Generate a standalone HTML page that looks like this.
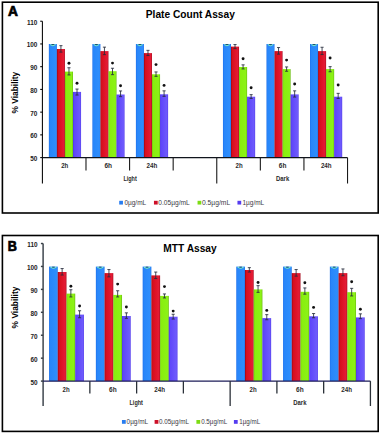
<!DOCTYPE html>
<html><head><meta charset="utf-8"><style>
html,body{margin:0;padding:0;background:#fff;}
body{width:381px;height:434px;overflow:hidden;}
svg{display:block;font-family:"Liberation Sans", sans-serif;}
.let{font-size:14px;font-weight:bold;stroke:#000;stroke-width:0.75px;}
.ttl{font-size:10.2px;font-weight:bold;}
.tk{font-size:6.4px;font-weight:bold;fill:#222;}
.yl{font-size:8.4px;font-weight:bold;}
.cl{font-size:6.4px;font-weight:bold;fill:#2a2a2a;}
.lg{font-size:6.6px;fill:#3a3a44;}
.ay0{stroke:#000;stroke-width:1.05;}
.ax0{stroke:#10141c;stroke-width:1.2;}
.ad0{stroke:#1a1a1a;stroke-width:1.1;}
.ay1{stroke:#384048;stroke-width:1.45;}
.ax1{stroke:#1c1c58;stroke-width:1.3;}
.ad1{stroke:#2a3038;stroke-width:1.3;}
.eb{stroke:#262c3c;stroke-width:0.85;fill:none;}
</style></head><body>
<svg width="381" height="434" viewBox="0 0 381 434">
<defs><linearGradient id="g0" x1="0" x2="1" y1="0" y2="0"><stop offset="0" stop-color="rgb(30, 112, 236)"/><stop offset="0.14" stop-color="rgb(40, 134, 250)"/><stop offset="0.86" stop-color="rgb(46, 142, 252)"/><stop offset="1" stop-color="rgb(32, 115, 238)"/></linearGradient><linearGradient id="g1" x1="0" x2="1" y1="0" y2="0"><stop offset="0" stop-color="rgb(150, 6, 16)"/><stop offset="0.14" stop-color="rgb(214, 14, 28)"/><stop offset="0.6" stop-color="rgb(224, 22, 44)"/><stop offset="0.86" stop-color="rgb(228, 28, 54)"/><stop offset="1" stop-color="rgb(168, 12, 30)"/></linearGradient><linearGradient id="g2" x1="0" x2="1" y1="0" y2="0"><stop offset="0" stop-color="rgb(112, 200, 10)"/><stop offset="0.14" stop-color="rgb(136, 238, 14)"/><stop offset="0.86" stop-color="rgb(140, 242, 22)"/><stop offset="1" stop-color="rgb(104, 184, 16)"/></linearGradient><linearGradient id="g3" x1="0" x2="1" y1="0" y2="0"><stop offset="0" stop-color="rgb(76, 52, 230)"/><stop offset="0.14" stop-color="rgb(94, 70, 250)"/><stop offset="0.86" stop-color="rgb(110, 90, 252)"/><stop offset="1" stop-color="rgb(86, 62, 236)"/></linearGradient></defs>
<rect width="381" height="434" fill="#fff"/>
<rect x="2.4" y="2.2" width="375.8" height="210.8" fill="none" stroke="#000" stroke-width="1.6"/>
<text transform="translate(8,16.45) scale(0.98,1)" class="let">A</text>
<text x="190.3" y="17.8" class="ttl" text-anchor="middle">Plate Count Assay</text>
<line x1="42.4" y1="21.22" x2="42.4" y2="183.5" class="ay0"/>
<line x1="40.2" y1="157.6" x2="42.4" y2="157.6" class="ay0"/>
<text x="37.4" y="161.1" class="tk" text-anchor="end">50</text>
<line x1="40.2" y1="134.87" x2="42.4" y2="134.87" class="ay0"/>
<text x="37.4" y="138.37" class="tk" text-anchor="end">60</text>
<line x1="40.2" y1="112.14" x2="42.4" y2="112.14" class="ay0"/>
<text x="37.4" y="115.64" class="tk" text-anchor="end">70</text>
<line x1="40.2" y1="89.41" x2="42.4" y2="89.41" class="ay0"/>
<text x="37.4" y="92.91" class="tk" text-anchor="end">80</text>
<line x1="40.2" y1="66.68" x2="42.4" y2="66.68" class="ay0"/>
<text x="37.4" y="70.18" class="tk" text-anchor="end">90</text>
<line x1="40.2" y1="43.95" x2="42.4" y2="43.95" class="ay0"/>
<text x="37.4" y="47.45" class="tk" text-anchor="end">100</text>
<line x1="40.2" y1="21.22" x2="42.4" y2="21.22" class="ay0"/>
<text x="37.4" y="24.72" class="tk" text-anchor="end">110</text>
<text transform="translate(18,92.6) rotate(-90)" class="yl" text-anchor="middle">% Viability</text>
<rect x="48.85" y="44" width="8.05" height="113.6" fill="url(#g0)"/>
<path d="M50.15 44.6Q52.88 47 55.6 44.6" fill="none" stroke="rgb(125,240,195)" stroke-width="1.0"/>
<path d="M51.58 44.5H54.17" stroke="rgb(30,70,70)" stroke-width="0.8"/>
<rect x="56.9" y="49" width="8.05" height="108.6" fill="url(#g1)"/>
<path d="M60.93 45.65V52.15M59.38 45.65H62.48M59.38 52.15H62.48" class="eb"/>
<rect x="64.95" y="71.6" width="8.05" height="86" fill="url(#g2)"/>
<path d="M68.98 67.75V74.95M67.43 67.75H70.53M67.43 74.95H70.53" class="eb"/>
<circle cx="68.98" cy="63.3" r="1.45" fill="#111"/>
<rect x="73" y="91.9" width="8.05" height="65.7" fill="url(#g3)"/>
<path d="M77.03 89.05V95.05M75.48 89.05H78.58M75.48 95.05H78.58" class="eb"/>
<circle cx="77.03" cy="83.2" r="1.45" fill="#111"/>
<rect x="92.38" y="44" width="8.05" height="113.6" fill="url(#g0)"/>
<path d="M93.67 44.6Q96.4 47 99.12 44.6" fill="none" stroke="rgb(125,240,195)" stroke-width="1.0"/>
<path d="M95.1 44.5H97.7" stroke="rgb(30,70,70)" stroke-width="0.8"/>
<rect x="100.42" y="51.1" width="8.05" height="106.5" fill="url(#g1)"/>
<path d="M104.45 47.15V54.65M102.9 47.15H106M102.9 54.65H106" class="eb"/>
<rect x="108.47" y="71.2" width="8.05" height="86.4" fill="url(#g2)"/>
<path d="M112.5 68.25V74.65M110.95 68.25H114.05M110.95 74.65H114.05" class="eb"/>
<circle cx="112.5" cy="63.1" r="1.45" fill="#111"/>
<rect x="116.53" y="94.5" width="8.05" height="63.1" fill="url(#g3)"/>
<path d="M120.55 90.95V96.65M119 90.95H122.1M119 96.65H122.1" class="eb"/>
<circle cx="120.55" cy="85.7" r="1.45" fill="#111"/>
<rect x="135.9" y="44" width="8.05" height="113.6" fill="url(#g0)"/>
<path d="M137.2 44.6Q139.93 47 142.65 44.6" fill="none" stroke="rgb(125,240,195)" stroke-width="1.0"/>
<path d="M138.62 44.5H141.23" stroke="rgb(30,70,70)" stroke-width="0.8"/>
<rect x="143.95" y="53.1" width="8.05" height="104.5" fill="url(#g1)"/>
<path d="M147.98 50.35V55.55M146.43 50.35H149.53M146.43 55.55H149.53" class="eb"/>
<rect x="152" y="74.3" width="8.05" height="83.3" fill="url(#g2)"/>
<path d="M156.03 71.95V76.35M154.47 71.95H157.58M154.47 76.35H157.58" class="eb"/>
<circle cx="156.03" cy="64.6" r="1.45" fill="#111"/>
<rect x="160.05" y="94.3" width="8.05" height="63.3" fill="url(#g3)"/>
<path d="M164.08 90.85V96.35M162.53 90.85H165.63M162.53 96.35H165.63" class="eb"/>
<circle cx="164.08" cy="85.4" r="1.45" fill="#111"/>
<rect x="222.95" y="44" width="8.05" height="113.6" fill="url(#g0)"/>
<path d="M224.25 44.6Q226.98 47 229.7 44.6" fill="none" stroke="rgb(125,240,195)" stroke-width="1.0"/>
<path d="M225.68 44.5H228.28" stroke="rgb(30,70,70)" stroke-width="0.8"/>
<rect x="231" y="46.6" width="8.05" height="111" fill="url(#g1)"/>
<path d="M235.03 44.55V48.65M233.48 44.55H236.58M233.48 48.65H236.58" class="eb"/>
<rect x="239.05" y="67" width="8.05" height="90.6" fill="url(#g2)"/>
<path d="M243.08 64.85V68.95M241.53 64.85H244.63M241.53 68.95H244.63" class="eb"/>
<circle cx="243.08" cy="58.7" r="1.45" fill="#111"/>
<rect x="247.1" y="96.7" width="8.05" height="60.9" fill="url(#g3)"/>
<path d="M251.13 94.65V98.45M249.58 94.65H252.68M249.58 98.45H252.68" class="eb"/>
<circle cx="251.13" cy="87.8" r="1.45" fill="#111"/>
<rect x="266.47" y="44" width="8.05" height="113.6" fill="url(#g0)"/>
<path d="M267.77 44.6Q270.5 47 273.22 44.6" fill="none" stroke="rgb(125,240,195)" stroke-width="1.0"/>
<path d="M269.2 44.5H271.8" stroke="rgb(30,70,70)" stroke-width="0.8"/>
<rect x="274.52" y="51.1" width="8.05" height="106.5" fill="url(#g1)"/>
<path d="M278.55 47.55V54.15M277 47.55H280.1M277 54.15H280.1" class="eb"/>
<rect x="282.57" y="69.1" width="8.05" height="88.5" fill="url(#g2)"/>
<path d="M286.6 66.95V71.25M285.05 66.95H288.15M285.05 71.25H288.15" class="eb"/>
<circle cx="286.6" cy="60.1" r="1.45" fill="#111"/>
<rect x="290.62" y="94.4" width="8.05" height="63.2" fill="url(#g3)"/>
<path d="M294.65 90.85V97.05M293.1 90.85H296.2M293.1 97.05H296.2" class="eb"/>
<circle cx="294.65" cy="84" r="1.45" fill="#111"/>
<rect x="310" y="44" width="8.05" height="113.6" fill="url(#g0)"/>
<path d="M311.3 44.6Q314.02 47 316.75 44.6" fill="none" stroke="rgb(125,240,195)" stroke-width="1.0"/>
<path d="M312.72 44.5H315.32" stroke="rgb(30,70,70)" stroke-width="0.8"/>
<rect x="318.05" y="51.1" width="8.05" height="106.5" fill="url(#g1)"/>
<path d="M322.07 47.25V54.55M320.52 47.25H323.62M320.52 54.55H323.62" class="eb"/>
<rect x="326.1" y="69.1" width="8.05" height="88.5" fill="url(#g2)"/>
<path d="M330.12 66.65V71.75M328.57 66.65H331.67M328.57 71.75H331.67" class="eb"/>
<circle cx="330.12" cy="58" r="1.45" fill="#111"/>
<rect x="334.15" y="96.7" width="8.05" height="60.9" fill="url(#g3)"/>
<path d="M338.17 93.35V98.45M336.62 93.35H339.72M336.62 98.45H339.72" class="eb"/>
<circle cx="338.17" cy="85" r="1.45" fill="#111"/>
<line x1="42.4" y1="157.6" x2="347.53" y2="157.6" class="ax0"/>
<line x1="85.99" y1="157.6" x2="85.99" y2="170.6" class="ad0"/>
<line x1="129.58" y1="157.6" x2="129.58" y2="170.6" class="ad0"/>
<line x1="173.17" y1="157.6" x2="173.17" y2="170.6" class="ad0"/>
<line x1="216.76" y1="157.6" x2="216.76" y2="183.5" class="ad0"/>
<line x1="260.35" y1="157.6" x2="260.35" y2="170.6" class="ad0"/>
<line x1="303.94" y1="157.6" x2="303.94" y2="170.6" class="ad0"/>
<line x1="347.53" y1="157.6" x2="347.53" y2="183.5" class="ad0"/>
<text x="64.69" y="168.2" class="cl" text-anchor="middle" textLength="7.1" lengthAdjust="spacingAndGlyphs">2h</text>
<text x="108.28" y="168.2" class="cl" text-anchor="middle" textLength="7.6" lengthAdjust="spacingAndGlyphs">6h</text>
<text x="151.88" y="168.2" class="cl" text-anchor="middle" textLength="10.7" lengthAdjust="spacingAndGlyphs">24h</text>
<text x="239.06" y="168.2" class="cl" text-anchor="middle" textLength="7.1" lengthAdjust="spacingAndGlyphs">2h</text>
<text x="282.64" y="168.2" class="cl" text-anchor="middle" textLength="7.6" lengthAdjust="spacingAndGlyphs">6h</text>
<text x="326.24" y="168.2" class="cl" text-anchor="middle" textLength="10.7" lengthAdjust="spacingAndGlyphs">24h</text>
<text x="130.08" y="180.8" class="cl" text-anchor="middle" textLength="13.4" lengthAdjust="spacingAndGlyphs">Light</text>
<text x="282.64" y="180.8" class="cl" text-anchor="middle" textLength="13.2" lengthAdjust="spacingAndGlyphs">Dark</text>
<rect x="119.2" y="200.8" width="3.75" height="3.75" fill="rgb(40,125,240)"/>
<text x="124.4" y="204.6" class="lg" textLength="21.8" lengthAdjust="spacingAndGlyphs">0µg/mL</text>
<rect x="153.95" y="200.8" width="3.75" height="3.75" fill="rgb(205,15,40)"/>
<text x="158.3" y="204.6" class="lg" textLength="31.4" lengthAdjust="spacingAndGlyphs">0.05µg/mL</text>
<rect x="197.55" y="200.8" width="3.75" height="3.75" fill="rgb(125,220,20)"/>
<text x="202" y="204.6" class="lg" textLength="28.2" lengthAdjust="spacingAndGlyphs">0.5µg/mL</text>
<rect x="237.45" y="200.8" width="3.75" height="3.75" fill="rgb(85,60,240)"/>
<text x="242.5" y="204.6" class="lg" textLength="21.7" lengthAdjust="spacingAndGlyphs">1µg/mL</text>
<rect x="2.4" y="235.5" width="375.8" height="195.9" fill="none" stroke="#000" stroke-width="1.6"/>
<text transform="translate(7.8,250.7) scale(0.9,1)" class="let">B</text>
<text x="190" y="251.8" class="ttl" text-anchor="middle">MTT Assay</text>
<line x1="43.1" y1="243.52" x2="43.1" y2="406" class="ay1"/>
<line x1="40.9" y1="381.1" x2="43.1" y2="381.1" class="ay1"/>
<text x="37.6" y="384.6" class="tk" text-anchor="end">50</text>
<line x1="40.9" y1="358.17" x2="43.1" y2="358.17" class="ay1"/>
<text x="37.6" y="361.67" class="tk" text-anchor="end">60</text>
<line x1="40.9" y1="335.24" x2="43.1" y2="335.24" class="ay1"/>
<text x="37.6" y="338.74" class="tk" text-anchor="end">70</text>
<line x1="40.9" y1="312.31" x2="43.1" y2="312.31" class="ay1"/>
<text x="37.6" y="315.81" class="tk" text-anchor="end">80</text>
<line x1="40.9" y1="289.38" x2="43.1" y2="289.38" class="ay1"/>
<text x="37.6" y="292.88" class="tk" text-anchor="end">90</text>
<line x1="40.9" y1="266.45" x2="43.1" y2="266.45" class="ay1"/>
<text x="37.6" y="269.95" class="tk" text-anchor="end">100</text>
<line x1="40.9" y1="243.52" x2="43.1" y2="243.52" class="ay1"/>
<text x="37.6" y="247.02" class="tk" text-anchor="end">110</text>
<text transform="translate(18,307.5) rotate(-90)" class="yl" text-anchor="middle">% Viability</text>
<rect x="49.06" y="266.6" width="8.72" height="114.5" fill="url(#g0)"/>
<path d="M50.36 267.2Q53.42 269.6 56.48 267.2" fill="none" stroke="rgb(125,240,195)" stroke-width="1.0"/>
<path d="M52.12 267.1H54.72" stroke="rgb(30,70,70)" stroke-width="0.8"/>
<rect x="57.78" y="272" width="8.72" height="109.1" fill="url(#g1)"/>
<path d="M62.14 268.55V275.05M60.59 268.55H63.69M60.59 275.05H63.69" class="eb"/>
<rect x="66.5" y="293.6" width="8.72" height="87.5" fill="url(#g2)"/>
<path d="M70.86 289.75V296.95M69.31 289.75H72.41M69.31 296.95H72.41" class="eb"/>
<circle cx="70.86" cy="286.2" r="1.45" fill="#111"/>
<rect x="75.22" y="314.6" width="8.72" height="66.5" fill="url(#g3)"/>
<path d="M79.58 310.75V317.75M78.03 310.75H81.13M78.03 317.75H81.13" class="eb"/>
<circle cx="79.58" cy="306" r="1.45" fill="#111"/>
<rect x="95.86" y="266.6" width="8.72" height="114.5" fill="url(#g0)"/>
<path d="M97.16 267.2Q100.22 269.6 103.28 267.2" fill="none" stroke="rgb(125,240,195)" stroke-width="1.0"/>
<path d="M98.92 267.1H101.52" stroke="rgb(30,70,70)" stroke-width="0.8"/>
<rect x="104.58" y="273.1" width="8.72" height="108" fill="url(#g1)"/>
<path d="M108.94 269.55V276.85M107.39 269.55H110.49M107.39 276.85H110.49" class="eb"/>
<rect x="113.3" y="294.9" width="8.72" height="86.2" fill="url(#g2)"/>
<path d="M117.66 290.75V296.95M116.11 290.75H119.21M116.11 296.95H119.21" class="eb"/>
<circle cx="117.66" cy="284.1" r="1.45" fill="#111"/>
<rect x="122.02" y="316" width="8.72" height="65.1" fill="url(#g3)"/>
<path d="M126.38 312.85V318.35M124.83 312.85H127.93M124.83 318.35H127.93" class="eb"/>
<circle cx="126.38" cy="307" r="1.45" fill="#111"/>
<rect x="142.66" y="266.6" width="8.72" height="114.5" fill="url(#g0)"/>
<path d="M143.96 267.2Q147.02 269.6 150.08 267.2" fill="none" stroke="rgb(125,240,195)" stroke-width="1.0"/>
<path d="M145.72 267.1H148.32" stroke="rgb(30,70,70)" stroke-width="0.8"/>
<rect x="151.38" y="275.4" width="8.72" height="105.7" fill="url(#g1)"/>
<path d="M155.74 272.05V278.55M154.19 272.05H157.29M154.19 278.55H157.29" class="eb"/>
<rect x="160.1" y="295.9" width="8.72" height="85.2" fill="url(#g2)"/>
<path d="M164.46 293.95V297.95M162.91 293.95H166.01M162.91 297.95H166.01" class="eb"/>
<circle cx="164.46" cy="286.6" r="1.45" fill="#111"/>
<rect x="168.82" y="316.7" width="8.72" height="64.4" fill="url(#g3)"/>
<path d="M173.18 314.25V319.05M171.63 314.25H174.73M171.63 319.05H174.73" class="eb"/>
<circle cx="173.18" cy="311.1" r="1.45" fill="#111"/>
<rect x="236.26" y="266.6" width="8.72" height="114.5" fill="url(#g0)"/>
<path d="M237.56 267.2Q240.62 269.6 243.68 267.2" fill="none" stroke="rgb(125,240,195)" stroke-width="1.0"/>
<path d="M239.32 267.1H241.92" stroke="rgb(30,70,70)" stroke-width="0.8"/>
<rect x="244.98" y="270" width="8.72" height="111.1" fill="url(#g1)"/>
<path d="M249.34 267.65V272.05M247.79 267.65H250.89M247.79 272.05H250.89" class="eb"/>
<rect x="253.7" y="289.4" width="8.72" height="91.7" fill="url(#g2)"/>
<path d="M258.06 285.65V292.35M256.51 285.65H259.61M256.51 292.35H259.61" class="eb"/>
<circle cx="258.06" cy="282.5" r="1.45" fill="#111"/>
<rect x="262.42" y="318.1" width="8.72" height="63" fill="url(#g3)"/>
<path d="M266.78 314.65V319.75M265.23 314.65H268.33M265.23 319.75H268.33" class="eb"/>
<circle cx="266.78" cy="310.4" r="1.45" fill="#111"/>
<rect x="283.06" y="266.6" width="8.72" height="114.5" fill="url(#g0)"/>
<path d="M284.36 267.2Q287.42 269.6 290.48 267.2" fill="none" stroke="rgb(125,240,195)" stroke-width="1.0"/>
<path d="M286.12 267.1H288.72" stroke="rgb(30,70,70)" stroke-width="0.8"/>
<rect x="291.78" y="273.1" width="8.72" height="108" fill="url(#g1)"/>
<path d="M296.14 269.55V276.15M294.59 269.55H297.69M294.59 276.15H297.69" class="eb"/>
<rect x="300.5" y="291.8" width="8.72" height="89.3" fill="url(#g2)"/>
<path d="M304.86 287.95V294.15M303.31 287.95H306.41M303.31 294.15H306.41" class="eb"/>
<circle cx="304.86" cy="282.8" r="1.45" fill="#111"/>
<rect x="309.22" y="316.3" width="8.72" height="64.8" fill="url(#g3)"/>
<path d="M313.58 313.55V317.75M312.03 313.55H315.13M312.03 317.75H315.13" class="eb"/>
<circle cx="313.58" cy="307.4" r="1.45" fill="#111"/>
<rect x="329.86" y="266.6" width="8.72" height="114.5" fill="url(#g0)"/>
<path d="M331.16 267.2Q334.22 269.6 337.28 267.2" fill="none" stroke="rgb(125,240,195)" stroke-width="1.0"/>
<path d="M332.92 267.1H335.52" stroke="rgb(30,70,70)" stroke-width="0.8"/>
<rect x="338.58" y="273.1" width="8.72" height="108" fill="url(#g1)"/>
<path d="M342.94 268.95V275.75M341.39 268.95H344.49M341.39 275.75H344.49" class="eb"/>
<rect x="347.3" y="292.2" width="8.72" height="88.9" fill="url(#g2)"/>
<path d="M351.66 288.35V295.95M350.11 288.35H353.21M350.11 295.95H353.21" class="eb"/>
<circle cx="351.66" cy="281.7" r="1.45" fill="#111"/>
<rect x="356.02" y="317.4" width="8.72" height="63.7" fill="url(#g3)"/>
<path d="M360.38 313.85V318.65M358.83 313.85H361.93M358.83 318.65H361.93" class="eb"/>
<circle cx="360.38" cy="309.3" r="1.45" fill="#111"/>
<line x1="43.1" y1="381.1" x2="370.42" y2="381.1" class="ax1"/>
<line x1="89.86" y1="381.1" x2="89.86" y2="393.5" class="ad1"/>
<line x1="136.62" y1="381.1" x2="136.62" y2="393.5" class="ad1"/>
<line x1="183.38" y1="381.1" x2="183.38" y2="393.5" class="ad1"/>
<line x1="230.14" y1="381.1" x2="230.14" y2="406" class="ad1"/>
<line x1="276.9" y1="381.1" x2="276.9" y2="393.5" class="ad1"/>
<line x1="323.66" y1="381.1" x2="323.66" y2="393.5" class="ad1"/>
<line x1="370.42" y1="381.1" x2="370.42" y2="406" class="ad1"/>
<text x="66.08" y="392.4" class="cl" text-anchor="middle" textLength="7.1" lengthAdjust="spacingAndGlyphs">2h</text>
<text x="112.84" y="392.4" class="cl" text-anchor="middle" textLength="7.6" lengthAdjust="spacingAndGlyphs">6h</text>
<text x="159.6" y="392.4" class="cl" text-anchor="middle" textLength="10.7" lengthAdjust="spacingAndGlyphs">24h</text>
<text x="253.12" y="392.4" class="cl" text-anchor="middle" textLength="7.1" lengthAdjust="spacingAndGlyphs">2h</text>
<text x="299.88" y="392.4" class="cl" text-anchor="middle" textLength="7.6" lengthAdjust="spacingAndGlyphs">6h</text>
<text x="346.64" y="392.4" class="cl" text-anchor="middle" textLength="10.7" lengthAdjust="spacingAndGlyphs">24h</text>
<text x="136.22" y="404.6" class="cl" text-anchor="middle" textLength="13.4" lengthAdjust="spacingAndGlyphs">Light</text>
<text x="299.88" y="404.6" class="cl" text-anchor="middle" textLength="13.2" lengthAdjust="spacingAndGlyphs">Dark</text>
<rect x="121.95" y="420" width="3.8" height="3.8" fill="rgb(40,125,240)"/>
<text x="126.6" y="423.8" class="lg" textLength="21.5" lengthAdjust="spacingAndGlyphs">0µg/mL</text>
<rect x="154.6" y="420" width="3.8" height="3.8" fill="rgb(205,15,40)"/>
<text x="159" y="423.8" class="lg" textLength="30" lengthAdjust="spacingAndGlyphs">0.05µg/mL</text>
<rect x="196.4" y="420" width="3.8" height="3.8" fill="rgb(125,220,20)"/>
<text x="201.2" y="423.8" class="lg" textLength="26" lengthAdjust="spacingAndGlyphs">0.5µg/mL</text>
<rect x="233.9" y="420" width="3.8" height="3.8" fill="rgb(85,60,240)"/>
<text x="239.3" y="423.8" class="lg" textLength="20.9" lengthAdjust="spacingAndGlyphs">1µg/mL</text>
</svg>
</body></html>
